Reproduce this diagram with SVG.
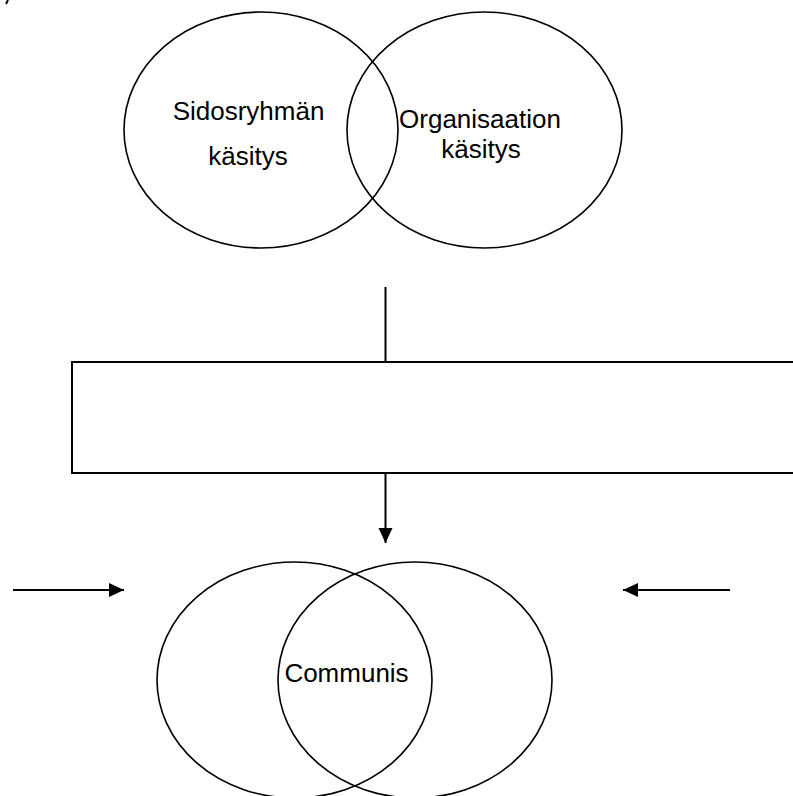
<svg xmlns="http://www.w3.org/2000/svg" width="793" height="796" viewBox="0 0 793 796">
<style>
.shape{fill:none;stroke:#000;stroke-width:1.6}
.conn{fill:none;stroke:#000;stroke-width:2}
.lbl{font-family:"Liberation Sans",Arial,sans-serif;font-size:26px;fill:#000;text-anchor:middle}
</style>
<defs>
<marker id="arr" markerUnits="userSpaceOnUse" markerWidth="16" markerHeight="15" refX="15" refY="7" orient="auto">
<path d="M0,0 L15,7 L0,14 z" fill="#000"/>
</marker>
</defs>
<rect width="793" height="796" fill="#fff"/>
<path d="M8,0 L6,4" class="conn"/>
<g id="stakeholder">
<ellipse class="shape" cx="261" cy="130" rx="137" ry="118"/>
<text class="lbl" x="248.5" y="120">Sidosryhmän</text>
<text class="lbl" x="248" y="165">käsitys</text>
</g>
<g id="organisation">
<ellipse class="shape" cx="484.5" cy="130" rx="137.5" ry="118"/>
<text class="lbl" x="480" y="128">Organisaation</text>
<text class="lbl" x="481" y="158">käsitys</text>
</g>
<g id="box">
<path class="conn" d="M795,362 H72 V473 H795"/>
</g>
<g id="communis">
<ellipse class="shape" cx="294.5" cy="680" rx="137.5" ry="118"/>
<ellipse class="shape" cx="415" cy="680" rx="137" ry="118"/>
<text class="lbl" x="346.5" y="682">Communis</text>
</g>
<g id="connectors">
<line class="conn" x1="385.5" y1="287" x2="385.5" y2="362"/>
<line class="conn" x1="385.5" y1="473" x2="385.5" y2="543" marker-end="url(#arr)"/>
<line class="conn" x1="13" y1="590" x2="124" y2="590" marker-end="url(#arr)"/>
<line class="conn" x1="730" y1="590" x2="623" y2="590" marker-end="url(#arr)"/>
</g>
</svg>
